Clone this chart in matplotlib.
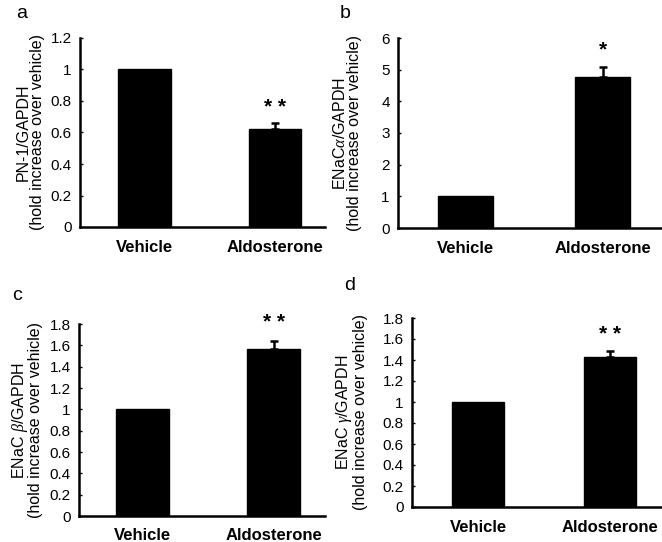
import matplotlib
matplotlib.use("Agg")
import matplotlib.pyplot as plt

plt.rcParams['font.family'] = ['Liberation Sans', 'DejaVu Sans']
plt.rcParams['mathtext.fontset'] = 'custom'
plt.rcParams['mathtext.it'] = 'Liberation Serif:italic'

categories = ["Vehicle", "Aldosterone"]

panel_letters = ["a", "b", "c", "d"]
ylabels = ["PN-1/GAPDH", r"ENaC$\alpha$/GAPDH", r"ENaC $\beta$/GAPDH", r"ENaC $\gamma$/GAPDH"]
ylabel2 = "(hold increase over vehicle)"

values_a = [1.0, 0.62]
errors_a = [0.0, 0.04]
values_b = [1.0, 4.78]
errors_b = [0.0, 0.31]
values_c = [1.0, 1.57]
errors_c = [0.0, 0.07]
values_d = [1.0, 1.43]
errors_d = [0.0, 0.06]

stars = ["* *", "*", "* *", "* *"]
star_y = [0.76, 5.62, 1.81, 1.64]

ticks_a = [0, 0.2, 0.4, 0.6, 0.8, 1, 1.2]
ticks_b = [0, 1, 2, 3, 4, 5, 6]
ticks_c = [0, 0.2, 0.4, 0.6, 0.8, 1, 1.2, 1.4, 1.6, 1.8]
ticks_d = [0, 0.2, 0.4, 0.6, 0.8, 1, 1.2, 1.4, 1.6, 1.8]

W, H = 662, 542
fig = plt.figure(figsize=(W / 100, H / 100), dpi=100)

def px_axes(left, right, top, bottom):
    return fig.add_axes([left / W, 1 - bottom / H, (right - left) / W, (bottom - top) / H])

boxes = [(80, 325, 38, 227), (398, 661, 38, 228), (79, 325, 324, 516), (412, 661, 318, 507)]
xlims = [(-0.494, 1.383), (-0.493, 1.427), (-0.485, 1.393), (-0.5, 1.386)]
letter_pos = [(22, 14), (345, 14), (17, 296), (350, 285)]
label_x = [(23, 38), (340, 355), (20, 36), (344, 360)]

panels = [
    (values_a, errors_a, ticks_a),
    (values_b, errors_b, ticks_b),
    (values_c, errors_c, ticks_c),
    (values_d, errors_d, ticks_d),
]

def fmt(t):
    if float(t).is_integer():
        return str(int(t))
    return ("%g" % t)

for i, (vals, errs, ticks) in enumerate(panels):
    ax = px_axes(*boxes[i])
    x = list(range(len(categories)))
    ax.bar(x, vals, width=0.4, color="black", edgecolor="black", zorder=2)
    ex = [xi for xi, e in zip(x, errs) if e > 0]
    ev = [v for v, e in zip(vals, errs) if e > 0]
    ee = [e for e in errs if e > 0]
    ax.errorbar(ex, ev, yerr=[[0] * len(ee), ee], fmt="none", ecolor="black",
                elinewidth=1.8, capsize=3, capthick=1.8, zorder=3)
    ax.set_xlim(*xlims[i])
    ax.set_ylim(0, ticks[-1])
    ax.set_yticks(ticks)
    ax.set_yticklabels([fmt(t) for t in ticks], fontsize=11)
    ax.set_xticks(x)
    ax.set_xticklabels(categories, fontsize=12, fontweight="bold")
    ax.tick_params(axis="x", length=0, pad=9)
    ax.tick_params(axis="y", length=2.5, width=1, direction="in", pad=6)
    for s in ["top", "right"]:
        ax.spines[s].set_visible(False)
    for s in ["left", "bottom"]:
        ax.spines[s].set_linewidth(1.8)
    ax.text(1, star_y[i], stars[i], ha="center", va="center", fontsize=15, fontweight="bold")
    b = boxes[i]
    cy = 1 - ((b[2] + b[3]) / 2) / H
    fig.text(label_x[i][0] / W, cy, ylabels[i], rotation=90, ha="center", va="center", fontsize=11.5)
    fig.text(label_x[i][1] / W, cy, ylabel2, rotation=90, ha="center", va="center", fontsize=11.5)
    fig.text(letter_pos[i][0] / W, 1 - letter_pos[i][1] / H, panel_letters[i], ha="center", va="center", fontsize=14)

fig.savefig("out.png", dpi=100)
